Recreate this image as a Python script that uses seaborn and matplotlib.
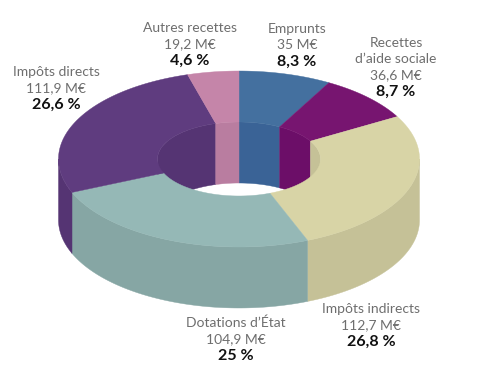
import numpy as np
import matplotlib.pyplot as plt
import seaborn as sns

# slices, clockwise from 12 o'clock
labels = ["Emprunts", "Recettes\nd'aide sociale", "Impôts indirects",
          "Dotations d'État", "Impôts directs", "Autres recettes"]
amounts = [35, 36.6, 112.7, 104.9, 111.9, 19.2]
percents = [8.3, 8.7, 26.8, 25, 26.6, 4.6]
top_colors = ["#44709f", "#771570", "#d8d4a6", "#95b8b6", "#5f3c7f", "#c585a9"]
wall_colors = ["#3a6396", "#6c0e68", "#c5c197", "#86a6a4", "#553473", "#b97da0"]
label_x = [297, 396, 371, 236, 56, 190]
label_y = [29, 43, 309, 323, 72, 28]

# ellipse geometry of the donut, in pixels
cx, cy = 239, 159
rx_out, ry_out = 180.5, 88
rx_in, ry_in = 81.5, 37
depth = 61

sns.set_theme(style="white")
plt.rcParams['font.family'] = ['Lato', 'DejaVu Sans']
top_pal = sns.color_palette(top_colors)
wall_pal = sns.color_palette(wall_colors)


def arc(t0, t1, rx, ry, dy=0):
    t = np.radians(np.linspace(t0, t1, 80))
    return cx + rx * np.sin(t), cy + dy - ry * np.cos(t)


def wall(ax, t0, t1, rx, ry, color):
    x1, y1 = arc(t0, t1, rx, ry)
    x2, y2 = arc(t1, t0, rx, ry, depth)
    ax.fill(np.r_[x1, x2], np.r_[y1, y2], color=color, lw=0.3)


f, ax = plt.subplots(figsize=(4.84, 3.7), dpi=100)
f.subplots_adjust(0, 0, 1, 1)
ax.set_xlim(0, 484)
ax.set_ylim(370, 0)
ax.axis('off')

edges = np.r_[0, np.cumsum(percents)] / np.sum(percents) * 360

# inner wall (back half) then outer wall (front half)
for i in range(len(percents)):
    t0, t1 = edges[i], edges[i + 1]
    if t0 < 90:
        wall(ax, t0, min(t1, 90), rx_in, ry_in, wall_pal[i])
    if t1 > 270:
        wall(ax, max(t0, 270), t1, rx_in, ry_in, wall_pal[i])
    if t1 > 90 and t0 < 270:
        wall(ax, max(t0, 90), min(t1, 270), rx_out, ry_out, wall_pal[i])

# top face
for i in range(len(percents)):
    t0, t1 = edges[i], edges[i + 1]
    x1, y1 = arc(t0, t1, rx_out, ry_out)
    x2, y2 = arc(t1, t0, rx_in, ry_in)
    ax.fill(np.r_[x1, x2], np.r_[y1, y2], color=top_pal[i], lw=0.3)

# labels
for i in range(len(labels)):
    y = label_y[i]
    for line in labels[i].split("\n"):
        ax.text(label_x[i], y, line.replace("'", "’"), ha='center', va='center',
                fontsize=10, color='#6e6e6e')
        y += 16
    amount = f"{amounts[i]:g}".replace(".", ",") + " M€"
    ax.text(label_x[i], y, amount, ha='center', va='center',
            fontsize=10, color='#6e6e6e')
    pct = f"{percents[i]:g}".replace(".", ",") + " %"
    ax.text(label_x[i], y + 16.5, pct, ha='center', va='center',
            fontsize=11.5, fontweight='bold', color='#111111')

f.savefig('out.png', dpi=100)
